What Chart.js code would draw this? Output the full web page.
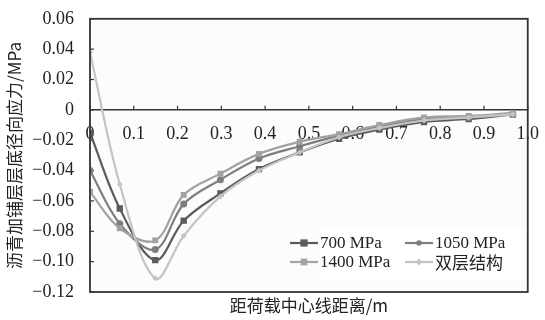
<!DOCTYPE html>
<html><head><meta charset="utf-8">
<script src="https://cdn.jsdelivr.net/npm/chart.js@4"></script>
<style>html,body{margin:0;padding:0;background:#fff}#wrap{width:545px;height:320px}</style>
</head><body><div id="wrap"><canvas id="c" width="545" height="320"></canvas></div>
<script>
const xs = [0, 0.068, 0.149, 0.214, 0.298, 0.386, 0.479, 0.569, 0.661, 0.763, 0.865, 0.966];
const s700 = [-0.015, -0.065, -0.099, -0.073, -0.055, -0.039, -0.028, -0.019, -0.013, -0.008, -0.006, -0.003];
const s1050 = [-0.040, -0.075, -0.092, -0.062, -0.046, -0.032, -0.024, -0.017, -0.011, -0.006, -0.005, -0.003];
const s1400 = [-0.054, -0.078, -0.086, -0.056, -0.042, -0.029, -0.021, -0.016, -0.010, -0.005, -0.004, -0.002];
const sDouble = [0.038, -0.049, -0.111, -0.083, -0.057, -0.040, -0.028, -0.018, -0.012, -0.007, -0.005, -0.003];
const seriesNames = ['700 MPa', '1050 MPa', '1400 MPa', '双层结构'];
const xTicks = [0, 0.1, 0.2, 0.3, 0.4, 0.5, 0.6, 0.7, 0.8, 0.9, 1.0];
const yTicks = [0.06, 0.04, 0.02, 0, -0.02, -0.04, -0.06, -0.08, -0.10, -0.12];
const xTitle = '距荷载中心线距离/m';
const yTitle = '沥青加铺层层底径向应力/MPa';

const pts = arr => xs.map((x, i) => ({x: x, y: arr[i]}));
const styles = [
  {c: '#5b5b5b', p: 'rect', r: 4.5},
  {c: '#7e7e7e', p: 'circle', r: 3.5},
  {c: '#a2a2a2', p: 'rect', r: 4.2},
  {c: '#c4c4c4', p: 'rectRot', r: 3}
];
const allData = [s700, s1050, s1400, sDouble];
const datasets = allData.map((d, i) => ({
  label: seriesNames[i], data: pts(d), borderColor: styles[i].c, backgroundColor: styles[i].c,
  pointStyle: styles[i].p, pointRadius: styles[i].r, pointBorderWidth: 0, borderWidth: 2.2,
  tension: 0.35, order: 4 - i
}));
const SERIF = "'Liberation Serif', 'Noto Sans CJK SC', serif";
const CJK = "'Noto Sans CJK SC', 'Liberation Serif', serif";

const deco = {
  id: 'deco',
  beforeDraw(chart) {
    const ctx = chart.ctx, a = chart.chartArea;
    ctx.save();
    ctx.fillStyle = '#fcfcfc';
    ctx.fillRect(a.left, a.top, a.right - a.left, a.bottom - a.top);
    ctx.restore();
  },
  beforeDatasetsDraw(chart) {
    const ctx = chart.ctx, a = chart.chartArea, xs_ = chart.scales.x, ys_ = chart.scales.y;
    ctx.save();
    const y0 = ys_.getPixelForValue(0);
    ctx.strokeStyle = '#333';
    ctx.lineWidth = 1.5;
    ctx.beginPath(); ctx.moveTo(a.left, y0); ctx.lineTo(a.right, y0); ctx.stroke();
    ctx.lineWidth = 1.2;
    xTicks.forEach(v => { const px = xs_.getPixelForValue(v); ctx.beginPath(); ctx.moveTo(px, y0); ctx.lineTo(px, y0 - 4); ctx.stroke(); });
    yTicks.forEach(v => { const py = ys_.getPixelForValue(v); ctx.beginPath(); ctx.moveTo(a.left, py); ctx.lineTo(a.left + 4, py); ctx.stroke(); });
    ctx.restore();
  },
  afterDatasetsDraw(chart) {
    const ctx = chart.ctx, a = chart.chartArea;
    ctx.save();
    ctx.fillStyle = '#ffffff';
    ctx.fillRect(320, 230, 208, 50);
    const pos = [[290, 243], [405, 243], [290, 262], [405, 262]];
    chart.data.datasets.forEach((ds, i) => {
      const [lx, ly] = pos[i];
      ctx.strokeStyle = ds.borderColor; ctx.lineWidth = 2.2;
      ctx.beginPath(); ctx.moveTo(lx, ly); ctx.lineTo(lx + 28, ly); ctx.stroke();
      ctx.fillStyle = ds.borderColor;
      const r = styles[i].r * 0.8;
      if (styles[i].p === 'rect') ctx.fillRect(lx + 14 - r, ly - r, 2 * r, 2 * r);
      else if (styles[i].p === 'circle') { ctx.beginPath(); ctx.arc(lx + 14, ly, r, 0, Math.PI * 2); ctx.fill(); }
      else { ctx.beginPath(); ctx.moveTo(lx + 14, ly - r - 1); ctx.lineTo(lx + 15 + r, ly); ctx.lineTo(lx + 14, ly + r + 1); ctx.lineTo(lx + 13 - r, ly); ctx.closePath(); ctx.fill(); }
      ctx.fillStyle = '#222';
      ctx.font = (i === 3 ? "17px " + CJK : "17px " + SERIF);
      ctx.textBaseline = 'middle'; ctx.textAlign = 'left';
      ctx.fillText(ds.label, lx + 30, ly + 1);
    });
    ctx.strokeStyle = '#333'; ctx.lineWidth = 1.8;
    ctx.strokeRect(a.left, a.top, a.right - a.left, a.bottom - a.top);
    ctx.fillStyle = '#222';
    ctx.font = "17px " + CJK;
    ctx.textAlign = 'center'; ctx.textBaseline = 'middle';
    ctx.fillText(xTitle, (a.left + a.right) / 2, 306);
    ctx.translate(15, (a.top + a.bottom) / 2);
    ctx.rotate(-Math.PI / 2);
    ctx.fillText(yTitle, 0, 0);
    ctx.restore();
  }
};

new Chart(document.getElementById('c'), {
  type: 'line',
  data: {datasets: datasets},
  options: {
    responsive: false, animation: false,
    layout: {padding: {left: 0, right: 12, top: 15, bottom: 28}},
    plugins: {legend: {display: false}, tooltip: {enabled: false}},
    scales: {
      x: {
        type: 'linear', min: 0, max: 1, position: {y: 0},
        afterBuildTicks: s => { s.ticks = xTicks.map(v => ({value: v})); },
        grid: {display: false}, border: {display: false},
        ticks: {padding: 6, autoSkip: false, maxRotation: 0, minRotation: 0, color: '#222', font: {family: SERIF, size: 18},
          callback: v => Math.abs(v) < 1e-9 ? '0' : v.toFixed(1)}
      },
      y: {
        min: -0.12, max: 0.06,
        afterBuildTicks: s => { s.ticks = yTicks.map(v => ({value: v})); },
        afterFit: s => { s.width = 90; },
        grid: {display: false}, border: {display: false},
        ticks: {padding: 8, autoSkip: false, color: '#222', font: {family: SERIF, size: 18},
          callback: v => Math.abs(v) < 1e-9 ? '0' : (v < 0 ? '\u2212' + Math.abs(v).toFixed(2) : v.toFixed(2))}
      }
    }
  },
  plugins: [deco]
});
</script></body></html>
